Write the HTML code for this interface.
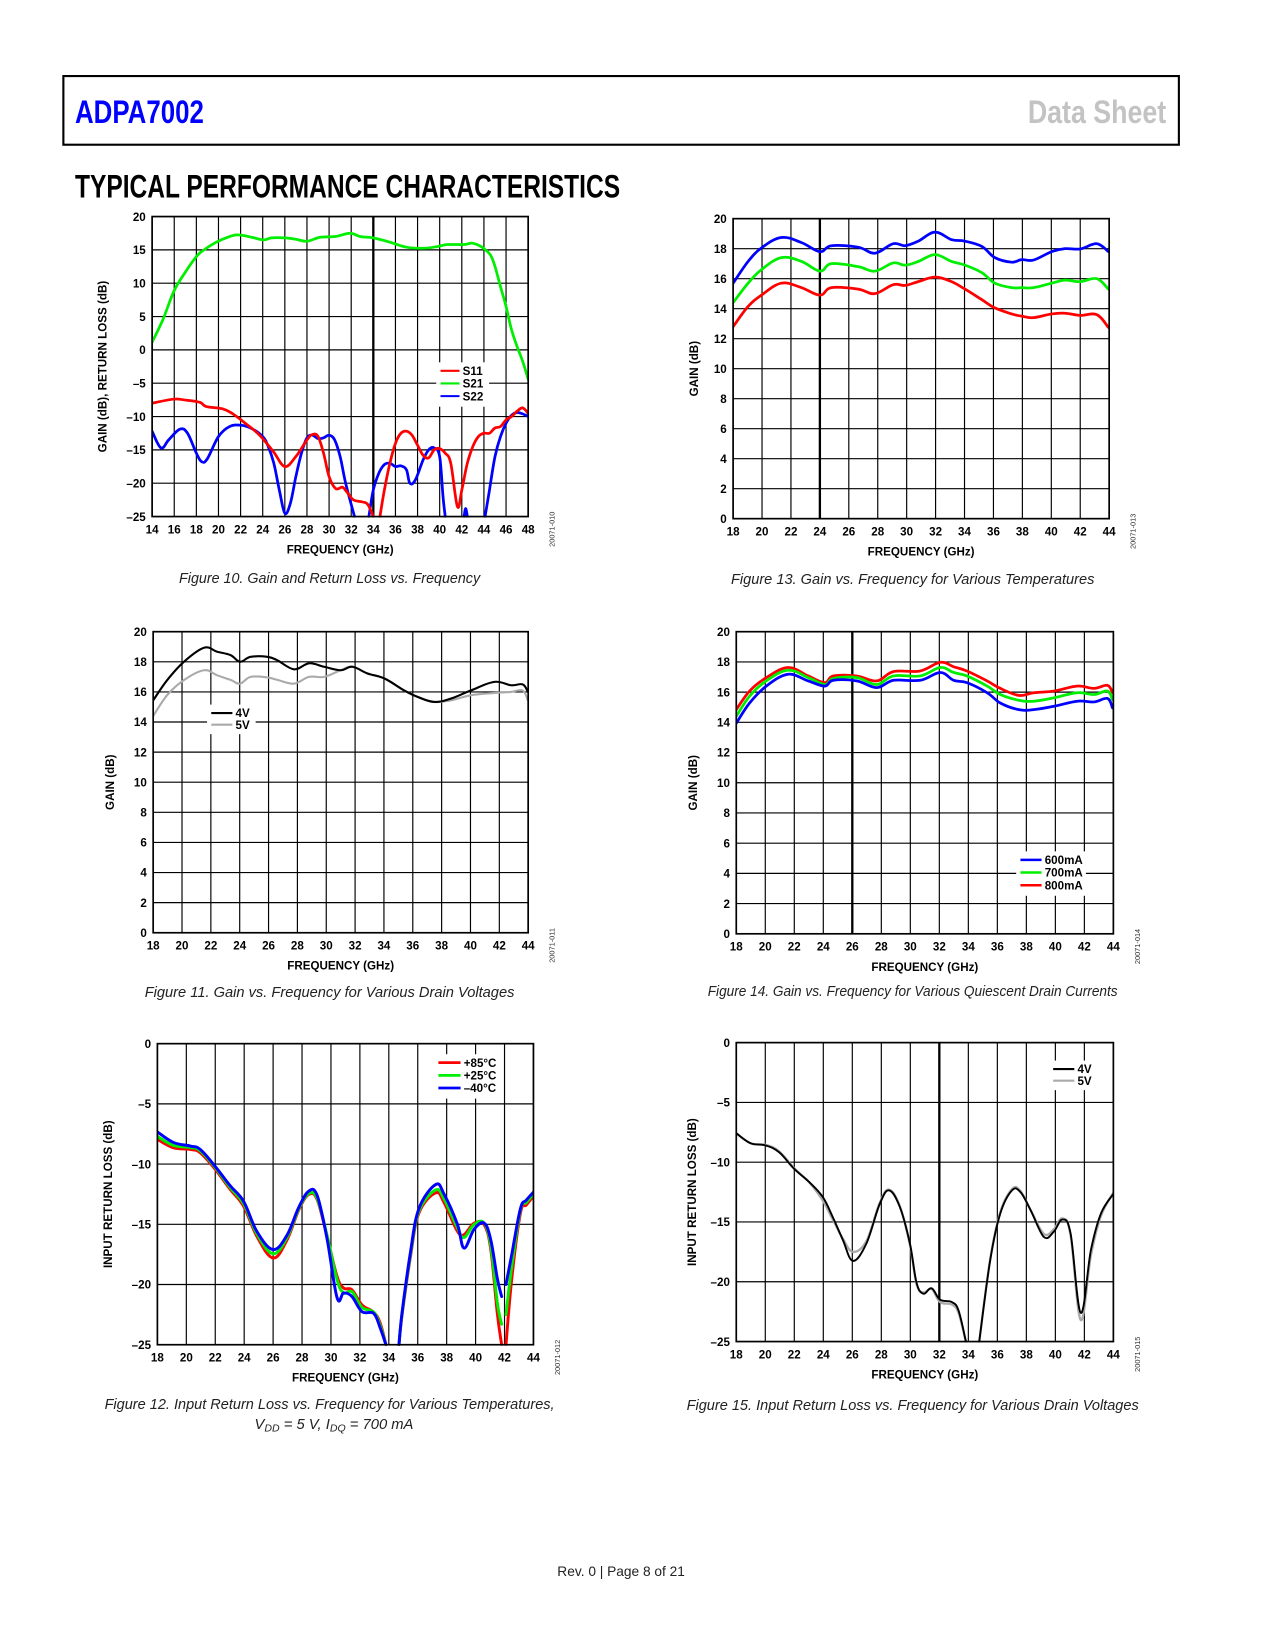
<!DOCTYPE html>
<html><head><meta charset="utf-8"><title>ADPA7002 Typical Performance Characteristics</title>
<style>
html,body{margin:0;padding:0;background:#fff;}
svg{display:block;}
text{font-family:"Liberation Sans",sans-serif;}
.tk{font-size:11px;font-weight:bold;fill:#000;}
.ttl{font-size:11px;font-weight:bold;fill:#000;}
.cap{font-size:14px;font-style:italic;fill:#222;}
.code{font-size:7px;fill:#333;}
</style></head>
<body>
<svg id="page" width="1275" height="1650" viewBox="0 0 1207 1562" xmlns="http://www.w3.org/2000/svg">
<rect x="0" y="0" width="1207" height="1562" fill="#fff"/>
<g>
<rect x="60" y="72" width="1056" height="65" fill="none" stroke="#000" stroke-width="2"/>
<text x="71" y="116.5" font-size="31" font-weight="bold" fill="#0000ff" textLength="122" lengthAdjust="spacingAndGlyphs">ADPA7002</text>
<text x="973" y="116.5" font-size="31" font-weight="bold" fill="#c3c3c3" textLength="131" lengthAdjust="spacingAndGlyphs">Data Sheet</text>
</g>
<text x="71" y="187" font-size="31" font-weight="bold" fill="#000" textLength="516" lengthAdjust="spacingAndGlyphs">TYPICAL PERFORMANCE CHARACTERISTICS</text>
<g id="charts"></g>
<text class="cap" x="312" y="552" text-anchor="middle" textLength="285" lengthAdjust="spacingAndGlyphs">Figure 10. Gain and Return Loss vs. Frequency</text>
<text class="cap" x="864" y="553" text-anchor="middle" textLength="344" lengthAdjust="spacingAndGlyphs">Figure 13. Gain vs. Frequency for Various Temperatures</text>
<text class="cap" x="312" y="944" text-anchor="middle" textLength="350" lengthAdjust="spacingAndGlyphs">Figure 11. Gain vs. Frequency for Various Drain Voltages</text>
<text class="cap" x="864" y="943" text-anchor="middle" textLength="388" lengthAdjust="spacingAndGlyphs">Figure 14. Gain vs. Frequency for Various Quiescent Drain Currents</text>
<text class="cap" x="312" y="1334" text-anchor="middle" textLength="426" lengthAdjust="spacingAndGlyphs">Figure 12. Input Return Loss vs. Frequency for Various Temperatures,</text>
<text class="cap" x="241" y="1353">V<tspan font-size="10" dy="2">DD</tspan><tspan dy="-2"> = 5 V, I</tspan><tspan font-size="10" dy="2">DQ</tspan><tspan dy="-2"> = 700 mA</tspan></text>
<text class="cap" x="864" y="1335" text-anchor="middle" textLength="428" lengthAdjust="spacingAndGlyphs">Figure 15. Input Return Loss vs. Frequency for Various Drain Voltages</text>
<text x="588" y="1492" font-size="13" fill="#222" text-anchor="middle">Rev. 0 | Page 8 of 21</text>
</svg>
<script>
// ---------- Figure 10 data ----------
const f10_xticks=[14,16,18,20,22,24,26,28,30,32,34,36,38,40,42,44,46,48];
const f10_yticks=[-25,-20,-15,-10,-5,0,5,10,15,20];
const f10_s21_f=[14,15,16,17.1,18,18.6,19.8,21,21.8,23,24.06,24.8,26,27,28,29.2,30.55,31.9,32.8,34,35.5,37,38.55,39.8,40.7,42.2,42.9,43.5,44,44.6,45,45.5,46,46.5,47,47.5,48];
const f10_s21_v=[1.15,4.65,8.9,11.9,14,14.9,16.15,17,17.25,16.9,16.5,16.8,16.8,16.6,16.3,16.9,17,17.5,17,16.8,16.15,15.4,15.25,15.5,15.8,15.8,16,15.7,15.2,14.2,12.5,9.5,6.5,3,0.5,-1.7,-4.4];
const f10_s11_f=[14,15.9,16.9,18.3,18.9,20.4,21.3,22.5,23.75,25,26,27,28,28.5,29,29.5,30,30.6,31.2,31.6,32.2,33,33.5,34,null,34.6,35,35.5,36,36.5,37,37.5,38,38.5,39,39.5,40,40.5,41,41.6,42,42.5,43,43.5,44,44.5,45,45.5,46,46.5,47,47.5,48];
const f10_s11_v=[-8,-7.4,-7.5,-7.85,-8.5,-8.85,-9.6,-11.1,-12.85,-15.35,-17.5,-16,-13.5,-12.7,-13,-15.5,-19,-20.8,-20.6,-21.3,-22.5,-22.8,-23.2,-25,null,-25,-21,-17,-14,-12.5,-12.2,-12.8,-14.3,-15.8,-16.2,-15,-14.8,-15.5,-17,-23.5,-21,-17,-14.5,-13,-12.5,-12.5,-11.7,-11.5,-10.5,-10,-9.2,-8.7,-9.5];
const f10_s22_f=[14,14.8,15.5,16.5,17.2,18,18.5,19,20,21,22,23,24,24.5,25,25.5,26,26.5,27,27.5,28,28.5,29,29.5,30,30.5,31,31.5,32.3,null,33.6,34,34.5,35,35.5,36,36.5,37,37.3,37.8,38.5,39,39.5,40,40.3,40.5,null,42.2,42.35,42.5,null,44.1,44.5,45,45.5,46,46.5,47,47.5,48];
const f10_s22_v=[-12.2,-14.7,-13.5,-11.9,-12.5,-15.5,-16.8,-16.3,-13,-11.5,-11.3,-11.8,-13,-14.5,-17,-21,-24.5,-23,-19,-15.5,-13.2,-12.8,-13.3,-13.2,-12.8,-13.5,-16,-20,-25,null,-25,-21,-18.5,-17.2,-17,-17.5,-17.4,-18,-20,-19.5,-16.5,-15,-14.7,-16,-22,-25,null,-25,-23.8,-25,null,-25,-21,-16,-13,-11,-9.8,-9.4,-9.6,-10];
// ---------- Figure 13 data ----------
const f13_xticks=[18,20,22,24,26,28,30,32,34,36,38,40,42,44];
const f13_yticks=[0,2,4,6,8,10,12,14,16,18,20];
const f13_f=[18,19.04,19.96,21.34,22.73,24,24.8,26.65,27.8,29.07,29.9,30.8,31.96,33.1,34.03,35.2,36.1,37.26,37.95,38.76,40.03,40.95,41.99,43.15,43.95];
const f13_m40=[15.7,17.15,18.05,18.75,18.4,17.8,18.2,18.1,17.7,18.33,18.2,18.5,19.1,18.6,18.5,18.15,17.4,17.1,17.27,17.24,17.8,18.0,17.98,18.33,17.8];
const f13_p25=[14.4,15.7,16.6,17.4,17.15,16.5,17.0,16.8,16.5,17.05,16.9,17.15,17.6,17.15,16.9,16.4,15.7,15.4,15.4,15.4,15.7,15.9,15.8,16.0,15.3];
const f13_p85=[12.8,14.15,14.9,15.7,15.4,14.9,15.4,15.3,15.0,15.6,15.55,15.8,16.1,15.8,15.3,14.6,14.05,13.65,13.5,13.4,13.65,13.7,13.55,13.6,12.75];
// ---------- Figure 11 data ----------
const f11_xticks=[18,20,22,24,26,28,30,32,34,36,38,40,42,44];
const f11_yticks=[0,2,4,6,8,10,12,14,16,18,20];
const f11_f=[18,18.97,20.13,21.52,22.44,23.37,24.02,24.76,25.92,26.61,27.77,28.81,29.85,31.0,31.82,32.86,34.02,35.4,36.33,37.49,38.65,40.04,41.66,42.81,43.62,43.98];
const f11_4v=[15.44,16.78,18,18.93,18.67,18.44,18.0,18.33,18.33,18.1,17.5,17.9,17.67,17.44,17.67,17.22,16.9,16.1,15.67,15.33,15.56,16.1,16.67,16.44,16.5,16.0];
const f11_5v=[14.4,15.78,16.78,17.44,17.1,16.8,16.55,17.0,16.96,16.8,16.55,17.0,17.0,17.44,17.67,17.22,16.9,16.1,15.67,15.33,15.44,15.78,15.93,16.0,16.1,15.44];
// ---------- Figure 14 data ----------
const f14_xticks=[18,20,22,24,26,28,30,32,34,36,38,40,42,44];
const f14_yticks=[0,2,4,6,8,10,12,14,16,18,20];
const f14_f=[18,18.92,20.07,21.57,22.96,24.1,24.69,26.3,27.68,28.84,30.68,32.06,32.99,33.9,35.3,36.2,37.48,38.5,39.9,41.5,42.67,43.59,43.94];
const f14_800=[14.84,16.07,16.96,17.63,17.07,16.63,17.07,17.07,16.74,17.36,17.4,17.97,17.68,17.4,16.74,16.25,15.78,15.96,16.07,16.4,16.25,16.45,15.96];
const f14_700=[14.4,15.73,16.74,17.45,16.96,16.5,16.9,16.96,16.5,17.07,17.07,17.63,17.3,17.07,16.4,15.84,15.46,15.4,15.62,15.96,15.84,16.07,15.5];
const f14_600=[13.94,15.28,16.4,17.18,16.74,16.4,16.78,16.74,16.3,16.78,16.78,17.3,16.78,16.63,15.96,15.28,14.84,14.84,15.06,15.4,15.35,15.58,14.95];
// ---------- Figure 12 data ----------
const f12_xticks=[18,20,22,24,26,28,30,32,34,36,38,40,42,44];
const f12_yticks=[-25,-20,-15,-10,-5,0];
const f12_f=[18,19.1,20.27,20.96,22,23.03,23.96,24.88,26,26.96,27.77,28.46,29.04,29.73,30.42,30.88,31.45,32.15,32.96,33.4,33.8,null,34.7,34.93,35.5,36.08,37.24,37.82,38.74,39.2,39.9,40.59,41.05,41.5,41.8,null,42.1,42.5,43.1,43.5,44];
const f12_p85=[-7.94,-8.64,-8.78,-9.06,-10.44,-12.1,-13.5,-16.0,-17.8,-16.3,-13.8,-12.53,-12.94,-16.0,-19.33,-20.3,-20.44,-21.7,-22.3,-23.2,-25,null,-25,-22.4,-17.67,-14.06,-12.39,-13.2,-15.58,-15.86,-14.9,-15.03,-17.1,-22.4,-25,null,-25,-19.5,-14.06,-13.4,-12.67];
const f12_p25=[-7.7,-8.45,-8.62,-8.9,-10.3,-11.95,-13.3,-15.8,-17.45,-16.1,-13.7,-12.45,-12.85,-15.9,-19.6,-20.7,-20.6,-21.9,-22.3,-23.4,-25,null,-25,-22.3,-17.5,-13.9,-12.15,-12.9,-15.3,-16.1,-15.0,-14.9,-16.8,-21.5,-23.3,null,-22.5,-18.5,-13.8,-13.2,-12.5];
const f12_m40=[-7.33,-8.2,-8.5,-8.78,-10.2,-11.8,-13.1,-15.6,-17.1,-15.9,-13.6,-12.25,-12.6,-16.2,-21.1,-20.7,-21.0,-22.25,-22.4,-23.6,-25,null,-25,-22.2,-17.3,-13.7,-11.7,-12.5,-15.0,-16.97,-15.4,-14.9,-16.3,-19.5,-21.0,null,-20.0,-17.5,-13.7,-13.0,-12.33];
// ---------- Figure 15 data ----------
const f15_xticks=[18,20,22,24,26,28,30,32,34,36,38,40,42,44];
const f15_yticks=[-25,-20,-15,-10,-5,0];
const f15_f=[18,18.99,20.03,20.96,21.99,23.04,23.96,24.66,25.35,26.04,26.97,27.89,28.54,29.28,29.97,30.43,30.9,31.47,32.05,32.86,33.32,33.83,null,34.75,35.51,36.2,37.01,37.59,38.29,39.21,39.9,40.48,41.05,41.75,42.45,43.14,44];
const f15_4v=[-7.58,-8.42,-8.6,-9.17,-10.56,-11.67,-12.9,-14.6,-16.5,-18.25,-16.8,-13.5,-12.36,-13.75,-16.8,-20.1,-21,-20.55,-21.5,-21.7,-22.4,-25,null,-25,-18.2,-14.3,-12.36,-12.5,-14.0,-16.25,-15.8,-14.8,-15.97,-22.6,-17.36,-14.3,-12.64];
const f15_5v=[-7.58,-8.42,-8.55,-9.1,-10.5,-11.7,-13.2,-14.8,-16.4,-17.5,-16.6,-13.4,-12.3,-13.7,-16.9,-20.2,-20.9,-20.6,-21.7,-21.9,-22.6,-25,null,-25,-18.1,-14.2,-12.25,-12.4,-14.0,-16.0,-15.6,-14.7,-16.1,-23.2,-17.8,-14.5,-12.55];

const NS="http://www.w3.org/2000/svg";
function mk(tag,attrs,parent){const e=document.createElementNS(NS,tag);for(const k in attrs)e.setAttribute(k,attrs[k]);if(parent)parent.appendChild(e);return e;}
function fmt(v){return v<0?'\u2013'+Math.abs(v):String(v);}
function smooth(pts){
  if(pts.length<2)return '';
  let d='M'+pts[0][0].toFixed(1)+' '+pts[0][1].toFixed(1);
  for(let i=0;i<pts.length-1;i++){
    const p0=pts[Math.max(0,i-1)],p1=pts[i],p2=pts[i+1],p3=pts[Math.min(pts.length-1,i+2)];
    const t=0.18;
    const c1=[p1[0]+(p2[0]-p0[0])*t,p1[1]+(p2[1]-p0[1])*t];
    const c2=[p2[0]-(p3[0]-p1[0])*t,p2[1]-(p3[1]-p1[1])*t];
    d+='C'+c1[0].toFixed(1)+' '+c1[1].toFixed(1)+' '+c2[0].toFixed(1)+' '+c2[1].toFixed(1)+' '+p2[0].toFixed(1)+' '+p2[1].toFixed(1);
  }
  return d;
}
const root=document.getElementById('charts');
let clipId=0;
function chart(c){
  const g=mk('g',{},root);
  
  
  const sx=f=>c.x0+(f-c.xmin)/(c.xmax-c.xmin)*(c.x1-c.x0);
  const sy=v=>c.y1-(v-c.ymin)/(c.ymax-c.ymin)*(c.y1-c.y0);
  const grid=mk('g',{stroke:'#000','stroke-width':1.1},g);
  
  
  for(let f=c.xmin;f<=c.xmax+1e-9;f+=c.gx){mk('line',{x1:sx(f),x2:sx(f),y1:c.y0,y2:c.y1},grid);}
  for(let v=c.ymin;v<=c.ymax+1e-9;v+=c.gy){mk('line',{x1:c.x0,x2:c.x1,y1:sy(v),y2:sy(v)},grid);}
  if(c.thick!=null){const t=mk('line',{x1:sx(c.thick),x2:sx(c.thick),y1:c.y0,y2:c.y1,stroke:'#000','stroke-width':2.2},g);
    
    }
  c.xticks.forEach(f=>{const t=mk('text',{x:sx(f),y:c.y1+16,'text-anchor':'middle',class:'tk'},g);t.textContent=f;
    
    });
  c.yticks.forEach(v=>{const t=mk('text',{x:c.x0-6,y:sy(v)+4,'text-anchor':'end',class:'tk'},g);t.textContent=fmt(v);
    
    });
  const xt=mk('text',{x:(c.x0+c.x1)/2,y:c.y1+35,'text-anchor':'middle',class:'ttl'},g);xt.textContent='FREQUENCY (GHz)';
  
  
  const yc=(c.y0+c.y1)/2;
  const yt=mk('text',{x:c.ylx,y:yc,'text-anchor':'middle',class:'ttl',transform:`rotate(-90 ${c.ylx} ${yc})`},g);yt.textContent=c.ylabel;
  
  
  const cx=c.x1+25, cy=c.y1+12;
  const ct=mk('text',{x:cx,y:cy,'text-anchor':'middle',class:'code',transform:`rotate(-90 ${cx} ${cy})`},g);ct.textContent=c.code;
  
  
  const id='clip'+(clipId++);
  const cp=mk('clipPath',{id:id},g);mk('rect',{x:c.x0,y:c.y0-1,width:c.x1-c.x0,height:c.y1-c.y0+2},cp);
  const sg=mk('g',{'clip-path':`url(#${id})`},g);
  c.series.forEach(s=>{
    let d='',seg=[];
    for(let i=0;i<=s.f.length;i++){
      if(i===s.f.length||s.f[i]==null||s.v[i]==null){d+=smooth(seg);seg=[];continue;}
      seg.push([sx(s.f[i]),sy(s.v[i])]);
    }
    const p=mk('path',{d:d,fill:'none',stroke:s.color,'stroke-width':s.w,'stroke-linejoin':'round','stroke-linecap':'round'},sg);
    
    
  });
  mk('rect',{x:c.x0,y:c.y0,width:c.x1-c.x0,height:c.y1-c.y0,fill:'none',stroke:'#000','stroke-width':1.6},g);
  if(c.legend){
    const L=c.legend;
    const lg=mk('g',{},g);
    
    
    mk('rect',{x:L.x-4,y:L.y-8,width:L.w,height:L.items.length*L.dy+6,fill:'#fff'},lg);
    L.items.forEach((it,i)=>{
      const y=L.y+i*L.dy;
      const ln=mk('line',{x1:L.x,x2:L.x+L.len,y1:y,y2:y,stroke:it.color,'stroke-width':it.w},lg);
      
      
      const t=mk('text',{x:L.x+L.len+3,y:y+4,class:'tk'},lg);t.textContent=it.label;
      
      
    });
  }
}
chart({name:'chart-fig10',x0:144,x1:500,y0:205,y1:489,xmin:14,xmax:48,ymin:-25,ymax:20,gx:2,gy:5,thick:34,
  xticks:f10_xticks,yticks:f10_yticks,ylabel:'GAIN (dB), RETURN LOSS (dB)',ylx:101,code:'20071-010',
  series:[{id:'s22-line',f:f10_s22_f,v:f10_s22_v,color:'#0000ff',w:2.6},{id:'s11-line',f:f10_s11_f,v:f10_s11_v,color:'#ff0000',w:2.6},{id:'s21-line',f:f10_s21_f,v:f10_s21_v,color:'#00ee00',w:2.6}],
  legend:{x:417,y:351,dy:12,len:18,w:50,items:[{label:'S11',color:'#ff0000',w:2},{label:'S21',color:'#00ee00',w:2},{label:'S22',color:'#0000ff',w:2}]}});
chart({name:'chart-fig13',x0:694,x1:1050,y0:207,y1:491,xmin:18,xmax:44,ymin:0,ymax:20,gx:2,gy:2,thick:24,
  xticks:f13_xticks,yticks:f13_yticks,ylabel:'GAIN (dB)',ylx:661,code:'20071-013',
  series:[{id:'p85c-line',f:f13_f,v:f13_p85,color:'#ff0000',w:2.6},{id:'p25c-line',f:f13_f,v:f13_p25,color:'#00ee00',w:2.6},{id:'m40c-line',f:f13_f,v:f13_m40,color:'#0000ff',w:2.6}]});
chart({name:'chart-fig11',x0:145,x1:500,y0:598,y1:883,xmin:18,xmax:44,ymin:0,ymax:20,gx:2,gy:2,thick:null,
  xticks:f11_xticks,yticks:f11_yticks,ylabel:'GAIN (dB)',ylx:108,code:'20071-011',
  series:[{id:'5v-line',f:f11_f,v:f11_5v,color:'#aaaaaa',w:2},{id:'4v-line',f:f11_f,v:f11_4v,color:'#000',w:2}],
  legend:{x:200,y:675,dy:11,len:20,w:46,items:[{label:'4V',color:'#000',w:2},{label:'5V',color:'#aaaaaa',w:2}]}});
chart({name:'chart-fig14',x0:697,x1:1054,y0:598,y1:884,xmin:18,xmax:44,ymin:0,ymax:20,gx:2,gy:2,thick:26,
  xticks:f14_xticks,yticks:f14_yticks,ylabel:'GAIN (dB)',ylx:660,code:'20071-014',
  series:[{id:'800ma-line',f:f14_f,v:f14_800,color:'#ff0000',w:2.6},{id:'700ma-line',f:f14_f,v:f14_700,color:'#00ee00',w:2.6},{id:'600ma-line',f:f14_f,v:f14_600,color:'#0000ff',w:2.6}],
  legend:{x:966,y:814,dy:12,len:20,w:66,items:[{label:'600mA',color:'#0000ff',w:2.4},{label:'700mA',color:'#00ee00',w:2.4},{label:'800mA',color:'#ff0000',w:2.4}]}});
chart({name:'chart-fig12',x0:149,x1:505,y0:988,y1:1273,xmin:18,xmax:44,ymin:-25,ymax:0,gx:2,gy:5,thick:null,
  xticks:f12_xticks,yticks:f12_yticks,ylabel:'INPUT RETURN LOSS (dB)',ylx:106,code:'20071-012',
  series:[{id:'p85c-line',f:f12_f,v:f12_p85,color:'#ff0000',w:2.8},{id:'p25c-line',f:f12_f,v:f12_p25,color:'#00ee00',w:2.8},{id:'m40c-line',f:f12_f,v:f12_m40,color:'#0000ff',w:2.8}],
  legend:{x:415,y:1006,dy:12,len:21,w:62,items:[{label:'+85\u00b0C',color:'#ff0000',w:2.6},{label:'+25\u00b0C',color:'#00ee00',w:2.6},{label:'\u201340\u00b0C',color:'#0000ff',w:2.6}]}});
chart({name:'chart-fig15',x0:697,x1:1054,y0:987,y1:1270,xmin:18,xmax:44,ymin:-25,ymax:0,gx:2,gy:5,thick:32,
  xticks:f15_xticks,yticks:f15_yticks,ylabel:'INPUT RETURN LOSS (dB)',ylx:659,code:'20071-015',
  series:[{id:'5v-line',f:f15_f,v:f15_5v,color:'#aaaaaa',w:2.2},{id:'4v-line',f:f15_f,v:f15_4v,color:'#000',w:1.8}],
  legend:{x:997,y:1012,dy:11,len:20,w:46,items:[{label:'4V',color:'#000',w:2},{label:'5V',color:'#aaaaaa',w:2}]}});
</script>
</body></html>
